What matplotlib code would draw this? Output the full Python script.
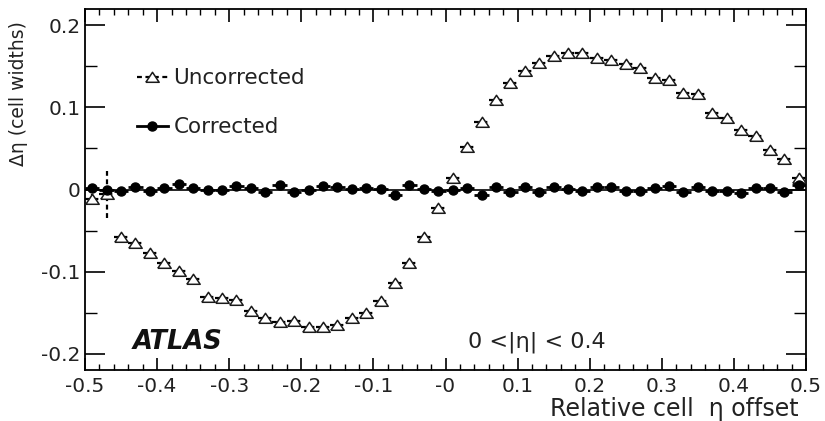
import numpy as np
import matplotlib
matplotlib.use("Agg")
import matplotlib.pyplot as plt
from matplotlib.lines import Line2D
from matplotlib.ticker import FixedLocator, FixedFormatter, MultipleLocator

plt.rcParams['font.family'] = ['DejaVu Sans']

# Bin centres of the relative cell eta offset
offset = np.round(np.arange(-0.49, 0.50, 0.02), 2)
half_bin = 0.01

# Eta shift (cell widths) before correction
uncorrected = [
    -0.012, -0.006, -0.0575, -0.065, -0.0775, -0.089, -0.099, -0.109, -0.1305, -0.1325,
    -0.1345, -0.1475, -0.157, -0.162, -0.160, -0.167, -0.167, -0.165, -0.157, -0.151,
    -0.1355, -0.114, -0.090, -0.0575, -0.022,
    0.0136, 0.052, 0.0826, 0.109, 0.130, 0.1447, 0.1545, 0.1626, 0.166, 0.166,
    0.160, 0.158, 0.153, 0.1476, 0.1355, 0.134, 0.118, 0.117, 0.0935, 0.0867,
    0.0725, 0.065, 0.048, 0.0367, 0.0136,
]
uncorrected_err = [0.006, 0.0285] + [0.0] * 47 + [0.010]

# Eta shift (cell widths) after correction
corrected = [
    0.0014, -0.0006, -0.0014, 0.0035, -0.0014, 0.0014, 0.0067, 0.0014, -0.0006, -0.0006,
    0.0043, 0.0014, -0.0026, 0.0055, -0.0026, -0.0006, 0.0043, 0.0026, 0.0002, 0.0014,
    0.0002, -0.0067, 0.0055, 0.0002, -0.0014,
    -0.0006, 0.0014, -0.0067, 0.0026, -0.0026, 0.0035, -0.0026, 0.0035, 0.0002, -0.0014,
    0.0026, 0.0035, -0.0014, -0.0014, 0.0014, 0.0043, -0.0026, 0.0026, -0.0014, -0.0014,
    -0.0039, 0.0014, 0.0014, -0.0026, 0.0055,
]

xtick_values = [-0.5, -0.4, -0.3, -0.2, -0.1, 0.0, 0.1, 0.2, 0.3, 0.4, 0.5]
xtick_labels = ["-0.5", "-0.4", "-0.3", "-0.2", "-0.1", "-0", "0.1", "0.2", "0.3", "0.4", "0.5"]
ytick_values = [-0.2, -0.1, 0.0, 0.1, 0.2]
ytick_labels = ["-0.2", "-0.1", "0", "0.1", "0.2"]

fig = plt.figure(figsize=(8.25, 4.21), dpi=100)
ax = fig.add_axes([0.103, 0.1211, 0.874, 0.8575])
ax.set_xlim(-0.5, 0.5)
ax.set_ylim(-0.22, 0.22)

ax.axhline(0.0, color='black', lw=1.2, zorder=1)

# Open triangle, a little wider than tall
tri = [(-1.0, -0.72), (1.0, -0.72), (0.0, 0.78), (-1.0, -0.72)]
dash = (0, (2.2, 1.6))
eb_u = ax.errorbar(offset, uncorrected, xerr=half_bin, yerr=uncorrected_err,
                   fmt='none', ecolor='black', elinewidth=1.6, capsize=0, zorder=2)
for lc in eb_u[2]:
    lc.set_linestyle(dash)
ax.plot(offset, uncorrected, ls='none', marker=tri, ms=9.6, mfc='white',
        mec='#1a1a1a', mew=1.1, zorder=3)

ax.errorbar(offset, corrected, xerr=half_bin, fmt='o', ms=6.5,
            mfc='black', mec='black', ecolor='black', elinewidth=2.0,
            capsize=0, zorder=5)

# Axis ticks on all four sides, pointing inward
ax.xaxis.set_major_locator(FixedLocator(xtick_values))
ax.xaxis.set_major_formatter(FixedFormatter(xtick_labels))
ax.xaxis.set_minor_locator(MultipleLocator(0.02))
ax.yaxis.set_major_locator(FixedLocator(ytick_values))
ax.yaxis.set_major_formatter(FixedFormatter(ytick_labels))
ax.yaxis.set_minor_locator(MultipleLocator(0.05))
ax.tick_params(axis='both', which='both', direction='in', top=True, right=True,
               colors='black', labelcolor='#222222')
ax.tick_params(axis='x', which='major', length=9, width=1.2, labelsize=14.5, pad=5)
ax.tick_params(axis='x', which='minor', length=4.5, width=1.0)
ax.tick_params(axis='y', which='major', length=14.5, width=1.2, labelsize=14.5, pad=3)
ax.tick_params(axis='y', which='minor', length=8.5, width=1.0)
for s in ax.spines.values():
    s.set_linewidth(1.3)

ax.set_xlabel("Relative cell  η offset", fontsize=17, color='#222222')
ax.xaxis.set_label_coords(0.99, -0.108)
ax.xaxis.label.set_horizontalalignment('right')
ax.xaxis.label.set_verticalalignment('center')
ax.set_ylabel("Δη (cell widths)", fontsize=13.5, color='#222222')
ax.yaxis.set_label_coords(-0.0915, 0.966)
ax.yaxis.label.set_horizontalalignment('right')
ax.yaxis.label.set_verticalalignment('center')

handles = [
    Line2D([], [], color='black', lw=1.6, ls=dash, marker=tri, ms=9.6,
           mfc='white', mec='#1a1a1a', mew=1.1),
    Line2D([], [], color='black', lw=2.0, marker='o', ms=6.5, mfc='black'),
]
ax.legend(handles, ["Uncorrected", "Corrected"], loc='upper left',
          bbox_to_anchor=(0.045, 0.89), frameon=False, fontsize=15.5,
          handlelength=1.44, handletextpad=0.27, labelspacing=1.35,
          labelcolor='#222222')

ax.text(0.066, 0.0776, "ATLAS", transform=ax.transAxes, fontsize=18.5,
        fontweight='bold', fontstyle='italic', color='#111111', va='center')
ax.text(0.531, 0.0776, "0 <|η| < 0.4", transform=ax.transAxes, fontsize=16,
        color='#222222', va='center')

fig.savefig("out.png", dpi=100)
